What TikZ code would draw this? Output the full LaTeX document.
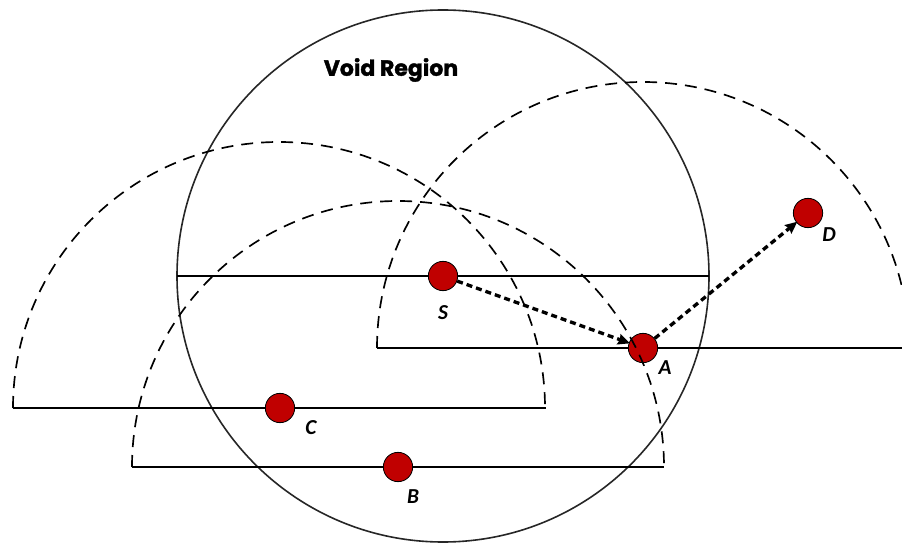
\documentclass[tikz,border=0pt]{standalone}
\usepackage{fontspec}
\setmainfont{Carlito}
\newfontfamily\titlefont[FakeBold=1.6]{Poppins}
\usetikzlibrary{arrows.meta}
\definecolor{nodered}{HTML}{C00000}
\tikzset{
  sensor/.style={circle,fill=nodered,draw=black,line width=0.6pt,minimum size=22pt,inner sep=0pt},
  lbl/.style={font=\fontsize{16}{16}\selectfont\bfseries\itshape,inner sep=0pt},
  rangearc/.style={draw=black,line width=1.25pt,dash pattern=on 9pt off 6pt},
  diam/.style={draw=black,line width=1.2pt},
  hop/.style={draw=black,line width=2.5pt,dash pattern=on 4.5pt off 3pt,-{Stealth[length=9pt,width=8pt,inset=1pt]},shorten >=-1pt}
}
\begin{document}
\begin{tikzpicture}[x=0.75pt,y=0.75pt]
\useasboundingbox (0,0) rectangle (902,543);
\clip (0,0) rectangle (902,543);
% positions
\coordinate (cS) at (443,267);
\coordinate (cA) at (643,195);
\coordinate (cC) at (280,135);
\coordinate (cB) at (398,76);
\coordinate (cD) at (808,330);
% void region circle
\draw[black!85,line width=1.2pt] (cS) circle[radius=266];
\draw[diam] (177,267) -- (709,267);
% diameter lines
\draw[diam] (13,135) -- (546,135);
\draw[diam] (132,76) -- (664,76);
\draw[diam] (377,195) -- (902,195);
% nodes
\node[sensor] (S) at (cS) {};
\node[sensor] (A) at (cA) {};
\node[sensor] (C) at (cC) {};
\node[sensor] (B) at (cB) {};
\node[sensor] (D) at (cD) {};
% range semicircles
\draw[rangearc] (13,135) arc[start angle=180,end angle=0,radius=266];
\draw[rangearc] (132,76) arc[start angle=180,end angle=0,radius=266];
\draw[rangearc] (377,195) arc[start angle=180,end angle=0,radius=266];
% labels
\node[lbl] (lS) at (443,230) {S};
\node[lbl] (lA) at (665,175) {A};
\node[lbl] (lC) at (311,115) {C};
\node[lbl] (lB) at (413,46) {B};
\node[lbl] (lD) at (829,308) {D};
\node[font=\titlefont\fontsize{16.5}{16.5}\selectfont\bfseries,inner sep=0pt] (title) at (391,473) {Void Region};
% hops
\draw[hop] (S) -- (A);
\draw[hop] (A) -- (D);
\end{tikzpicture}
\end{document}
